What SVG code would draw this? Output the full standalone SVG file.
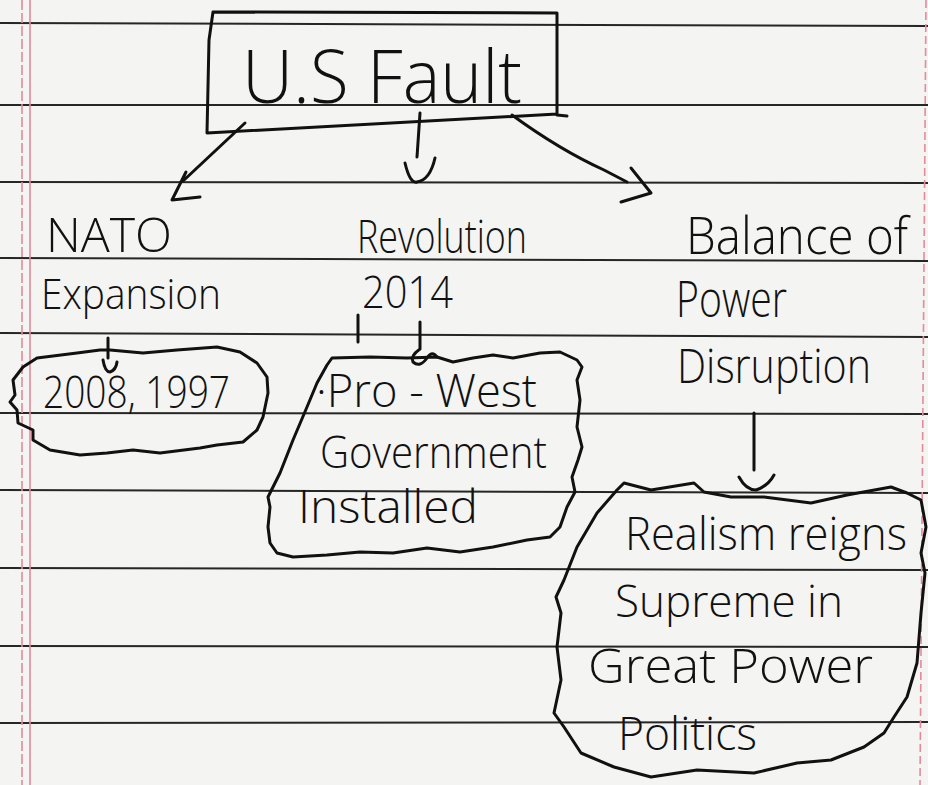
<svg xmlns="http://www.w3.org/2000/svg" width="928" height="785" viewBox="0 0 928 785">
<style>
.rule{stroke:#262626;stroke-width:2;fill:none}
.margin{stroke:#e58a9a;stroke-width:1.6;fill:none}
.ink{stroke:#111;stroke-width:3;fill:none;stroke-linecap:round;stroke-linejoin:round}
text{font-family:"Open Sans","Liberation Sans",sans-serif;font-weight:300;fill:#111}
</style>
<rect width="928" height="785" fill="#f4f4f2"/>
<g id="paper">
<path class="rule" d="M0,23 L928,26 M0,105 L928,105 M0,182 L928,183 M0,258 L928,261 M0,333 L928,337 M0,413 L928,414 M0,490 L928,493 M0,568 L928,570 M0,646 L928,647 M0,723 L928,722"/>
<path class="margin" d="M22,0 L22,785" stroke-dasharray="10 3"/>
<path class="margin" d="M30,0 L30,785"/>
<path class="margin" d="M926,0 L920,785" stroke-dasharray="8 4"/>
</g>
<g id="connectors">
<path class="ink" d="M245,123 L183,181 M186,172 L172,200 L200,197"/>
<path class="ink" d="M420,113 L417,157 M405,163 Q410,184 417,182 Q430,180 435,158"/>
<path class="ink" d="M512,115 Q560,150 604,170 L627,182 M631,168 L651,193 L621,202"/>
<path class="ink" d="M108,338 L108,358 M103,360 Q105,372 110,372 Q116,370 117,362"/>
<path class="ink" d="M358,315 L358,342 M420,322 L420,349 Q410,356 413,362 Q420,368 427,358 Q432,350 437,357"/>
<path class="ink" d="M754,413 L754,470 M739,477 Q746,490 756,490 Q768,486 774,475"/>
</g>
<g id="node-title">
<path class="ink" d="M213,12 L557,13 L557,115 L567,116 M557,114 Q420,121 207,133 L209,40 L213,12"/>
<text x="242" y="103" font-size="74" textLength="280" lengthAdjust="spacingAndGlyphs">U.S Fault</text>
</g>
<g id="node-nato">
<text x="46" y="252" font-size="48" textLength="126" lengthAdjust="spacingAndGlyphs">NATO</text>
<text x="41" y="309" font-size="42" textLength="180" lengthAdjust="spacingAndGlyphs">Expansion</text>
</g>
<g id="node-years">
<path class="ink" d="M37,358 L77,353 L100,350 L110,350 L143,353 L177,350 L217,347 L240,352 L257,363 L267,377 L268,393 L263,417 L257,430 L243,442 L217,445 L200,448 L160,453 L133,450 L107,453 L80,455 L50,450 L33,440 L33,430 L18,423 L17,410 L10,402 L15,395 L13,380 L23,367 Z"/>
<text x="43" y="408" font-size="44" textLength="187" lengthAdjust="spacingAndGlyphs">2008, 1997</text>
</g>
<g id="node-revolution">
<text x="357" y="253" font-size="46" textLength="170" lengthAdjust="spacingAndGlyphs">Revolution</text>
<text x="362" y="308" font-size="44" textLength="91" lengthAdjust="spacingAndGlyphs">2014</text>
</g>
<g id="node-prowest">
<path class="ink" d="M332,358 L370,357 L407,358 L437,357 L453,362 L473,358 L493,355 L513,358 L540,353 L560,352 L577,360 L582,367 L577,380 L580,400 L577,427 L582,447 L578,460 L572,477 L575,492 L567,507 L560,527 L550,537 L527,540 L493,547 L460,552 L427,548 L393,553 L360,552 L327,555 L293,557 L277,553 L270,543 L268,527 L270,507 L268,497 L280,473 L293,440 L307,407 L317,383 L327,365 Z"/>
<text x="316" y="407" font-size="46" textLength="221" lengthAdjust="spacingAndGlyphs">·Pro - West</text>
<text x="320" y="468" font-size="44" textLength="227" lengthAdjust="spacingAndGlyphs">Government</text>
<text x="298" y="523" font-size="46" textLength="180" lengthAdjust="spacingAndGlyphs">Installed</text>
</g>
<g id="node-balance">
<text x="686" y="254" font-size="52" textLength="222" lengthAdjust="spacingAndGlyphs">Balance of</text>
<text x="676" y="317" font-size="50" textLength="111" lengthAdjust="spacingAndGlyphs">Power</text>
<text x="677" y="383" font-size="48" textLength="194" lengthAdjust="spacingAndGlyphs">Disruption</text>
</g>
<g id="node-realism">
<path class="ink" d="M617,490 L624,483 L651,490 L694,483 L704,492 L731,497 L764,497 L811,503 L847,495 L891,487 L907,493 L921,500 L926,527 L921,553 L925,573 L921,613 L917,663 L907,697 L894,717 L884,733 L864,747 L831,760 L797,763 L754,773 L697,770 L651,777 L614,767 L581,753 L564,727 L554,713 L561,680 L557,647 L561,613 L556,597 L564,580 L577,547 L597,513 Z"/>
<text x="625" y="550" font-size="46" textLength="282" lengthAdjust="spacingAndGlyphs">Realism reigns</text>
<text x="615" y="617" font-size="44" textLength="228" lengthAdjust="spacingAndGlyphs">Supreme in</text>
<text x="588" y="683" font-size="48" textLength="285" lengthAdjust="spacingAndGlyphs">Great Power</text>
<text x="618" y="750" font-size="46" textLength="139" lengthAdjust="spacingAndGlyphs">Politics</text>
</g>
</svg>
